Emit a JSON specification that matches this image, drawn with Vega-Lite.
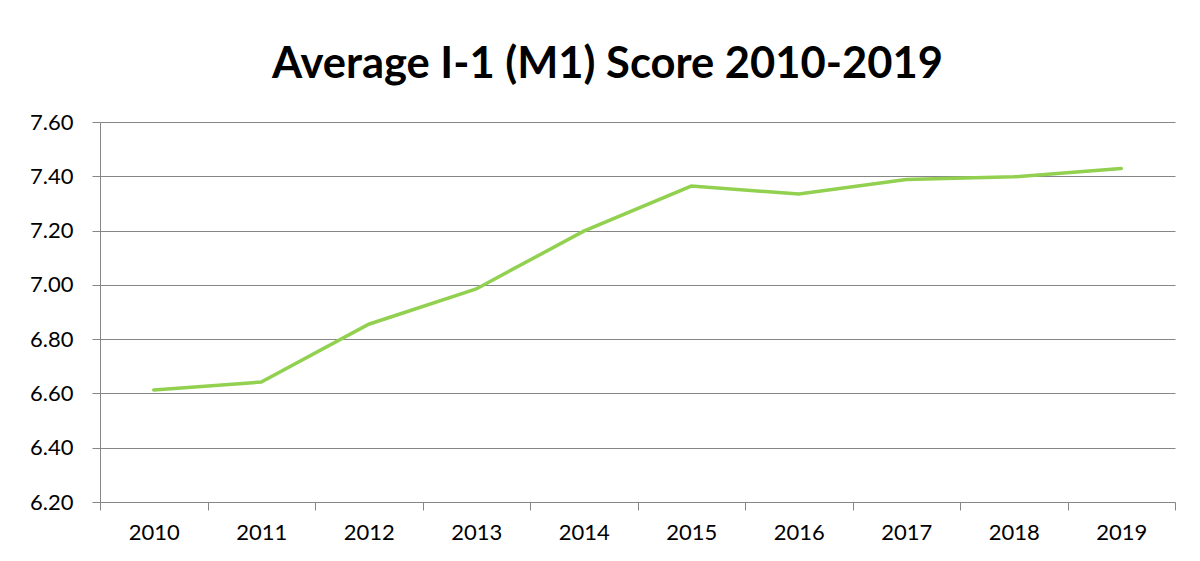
{
  "$schema": "https://vega.github.io/schema/vega-lite/v6.json",
  "width": 1075,
  "height": 380,
  "autosize": {"type": "none"},
  "padding": {"left": 100, "top": 122, "right": 25, "bottom": 59},
  "background": "white",
  "title": {
    "text": "Average I-1 (M1) Score 2010-2019",
    "font": "Lato",
    "fontSize": 43.5,
    "fontWeight": "bold",
    "color": "#000000",
    "anchor": "middle",
    "baseline": "alphabetic",
    "offset": -10,
    "dx": -30
  },
  "config": {
    "view": {"stroke": null},
    "axis": {
      "labelFont": "Lato",
      "labelFontSize": 22,
      "labelColor": "#000000",
      "domainColor": "#868686",
      "tickColor": "#868686",
      "gridColor": "#868686",
      "domainWidth": 1,
      "tickWidth": 1,
      "gridWidth": 1,
      "title": null
    }
  },
  "data": {
    "values": [
      {"year": "2010", "score": 6.613},
      {"year": "2011", "score": 6.642},
      {"year": "2012", "score": 6.855},
      {"year": "2013", "score": 6.985},
      {"year": "2014", "score": 7.198},
      {"year": "2015", "score": 7.364},
      {"year": "2016", "score": 7.335},
      {"year": "2017", "score": 7.388},
      {"year": "2018", "score": 7.398},
      {"year": "2019", "score": 7.429}
    ]
  },
  "mark": {"type": "line", "color": "#92D050", "strokeWidth": 3.5, "strokeCap": "round"},
  "encoding": {
    "x": {
      "field": "year",
      "type": "ordinal",
      "scale": {"type": "band", "paddingInner": 0, "paddingOuter": 0},
      "axis": {
        "labelAngle": 0,
        "tickBand": "extent",
        "tickSize": 8,
        "labelPadding": 12,
        "grid": false
      }
    },
    "y": {
      "field": "score",
      "type": "quantitative",
      "scale": {"domain": [6.2, 7.6], "nice": false, "zero": false},
      "axis": {
        "values": [6.2, 6.4, 6.6, 6.8, 7.0, 7.2, 7.4, 7.6],
        "format": ".2f",
        "grid": true,
        "tickSize": 8,
        "labelPadding": 19
      }
    }
  }
}
